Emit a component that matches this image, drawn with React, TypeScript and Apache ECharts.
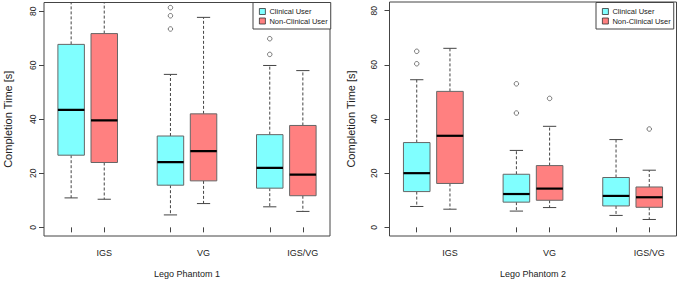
import React, { useEffect, useRef } from "react";
import * as echarts from "echarts";

// ---------- data ----------
const GROUPS = ["IGS", "VG", "IGS/VG"];
const SERIES_NAMES = ["Clinical User", "Non-Clinical User"];
const PANEL_TITLES = ["Lego Phantom 1", "Lego Phantom 2"];
const Y_AXIS_TITLE = "Completion Time [s]";
const Y_TICKS = [0, 20, 40, 60, 80];
const POS_CLINICAL = [1, 4, 7];
const POS_NONCLINICAL = [2, 5, 8];
const LABEL_POS = [2, 5, 8];

// [min whisker, Q1, median, Q3, max whisker]
const P1_CLINICAL = [
  [10.9, 26.7, 43.5, 67.7, 95],
  [4.6, 15.6, 24.1, 33.8, 56.6],
  [7.6, 14.5, 22.0, 34.3, 59.9],
];
const P1_NONCLINICAL = [
  [10.4, 24.0, 39.6, 71.7, 92],
  [8.8, 17.2, 28.2, 42.0, 77.7],
  [5.9, 11.7, 19.5, 37.7, 58.0],
];
const P1_CLINICAL_OUT = [[], [81.3, 78.3, 73.4], [69.8, 64.0]];
const P1_NONCLINICAL_OUT = [[], [], []];

const P2_CLINICAL = [
  [7.7, 13.2, 20.0, 31.3, 54.5],
  [6.0, 9.3, 12.3, 19.6, 28.4],
  [4.4, 7.9, 11.6, 18.4, 32.4],
];
const P2_NONCLINICAL = [
  [6.7, 16.2, 33.8, 50.2, 66.1],
  [7.3, 10.0, 14.3, 22.8, 37.3],
  [2.9, 7.4, 11.1, 14.9, 21.1],
];
const P2_CLINICAL_OUT = [[65.0, 60.4], [53.0, 42.2], []];
const P2_NONCLINICAL_OUT = [[], [47.6], [36.3]];

// ---------- styling ----------
const CYAN = "#80FFFF";
const RED = "#FF8080";
const Y_MIN = -3.2;
const Y_MAX = 83.2;
const X_MIN = 0.18;
const X_MAX = 8.82;
const BOX_W = 0.8;
const FONT = "Liberation Sans, Arial, sans-serif";
const TEXT = "#222";

const boxData = (pos: number[], stats: number[][]) =>
  stats.map((s, i) => [pos[i], ...s]);
const outData = (pos: number[], outs: number[][]) =>
  outs.flatMap((o, i) => o.map((v) => [pos[i], v]));

const renderBox = (_params: any, api: any) => {
  const x = api.value(0) as number;
  const mn = api.value(1) as number;
  const q1 = api.value(2) as number;
  const md = api.value(3) as number;
  const q3 = api.value(4) as number;
  const mx = api.value(5) as number;
  const w = api.size([BOX_W, 0])[0];
  const capW = w / 2;
  const cx = api.coord([x, q1])[0];
  const yQ1 = api.coord([x, q1])[1];
  const yQ3 = api.coord([x, q3])[1];
  const yMd = api.coord([x, md])[1];
  const yMn = api.coord([x, mn])[1];
  const yMx = api.coord([x, Math.min(mx, Y_MAX)])[1];
  const color = api.visual("color");
  const dashed = { stroke: "#444", lineWidth: 1, lineDash: [3, 2] };
  const solid = { stroke: "#444", lineWidth: 1 };
  const children: any[] = [
    { type: "line", shape: { x1: cx, y1: yQ3, x2: cx, y2: yMx }, style: dashed },
    { type: "line", shape: { x1: cx, y1: yQ1, x2: cx, y2: yMn }, style: dashed },
    { type: "line", shape: { x1: cx - capW / 2, y1: yMn, x2: cx + capW / 2, y2: yMn }, style: solid },
  ];
  if (mx <= Y_MAX) {
    children.push({
      type: "line",
      shape: { x1: cx - capW / 2, y1: yMx, x2: cx + capW / 2, y2: yMx },
      style: solid,
    });
  }
  children.push({
    type: "rect",
    shape: { x: cx - w / 2, y: yQ3, width: w, height: yQ1 - yQ3 },
    style: { fill: color, stroke: "#666", lineWidth: 1 },
  });
  children.push({
    type: "line",
    shape: { x1: cx - w / 2, y1: yMd, x2: cx + w / 2, y2: yMd },
    style: { stroke: "#000", lineWidth: 2.2 },
  });
  return { type: "group", children };
};

export default function App() {
  const ref = useRef<HTMLDivElement>(null);

  useEffect(() => {
    if (!ref.current) return;
    const chart = echarts.init(ref.current, undefined, { renderer: "svg" });

    const grids = [
      { left: 44, top: 2.5, width: 286, height: 236.5 },
      { left: 389.5, top: 2, width: 287, height: 236.3 },
    ].map((g) => ({
      ...g,
      show: true,
      borderColor: "#444",
      borderWidth: 1,
      backgroundColor: "transparent",
    }));

    const yLabelMargins = [7, 11];
    const yNameGaps = [31, 33];

    const xAxes = [0, 1].map((i) => ({
      gridIndex: i,
      type: "value",
      min: X_MIN,
      max: X_MAX,
      splitLine: { show: false },
      axisLine: { show: false },
      axisTick: {
        show: true,
        length: 5,
        lineStyle: { color: "#444" },
        customValues: [...POS_CLINICAL, ...POS_NONCLINICAL].sort(),
      },
      axisLabel: {
        customValues: LABEL_POS,
        formatter: (v: number) => GROUPS[LABEL_POS.indexOf(Math.round(v))] ?? "",
        fontSize: 9,
        fontFamily: FONT,
        color: TEXT,
        margin: 12,
      },
      name: PANEL_TITLES[i],
      nameLocation: "middle",
      nameGap: 33,
      nameTextStyle: { fontSize: 9, fontFamily: FONT, color: TEXT },
    }));

    const yAxes = [0, 1].map((i) => ({
      gridIndex: i,
      type: "value",
      min: Y_MIN,
      max: Y_MAX,
      splitLine: { show: false },
      axisLine: { show: false },
      axisTick: {
        show: true,
        length: 5,
        lineStyle: { color: "#444" },
        customValues: Y_TICKS,
      },
      axisLabel: {
        customValues: Y_TICKS,
        rotate: 90,
        fontSize: 8.5,
        fontFamily: FONT,
        color: TEXT,
        margin: yLabelMargins[i],
      },
      name: Y_AXIS_TITLE,
      nameLocation: "middle",
      nameGap: yNameGaps[i],
      nameTextStyle: { fontSize: 11, fontFamily: FONT, color: TEXT },
    }));

    const panels = [
      { c: P1_CLINICAL, n: P1_NONCLINICAL, co: P1_CLINICAL_OUT, no: P1_NONCLINICAL_OUT },
      { c: P2_CLINICAL, n: P2_NONCLINICAL, co: P2_CLINICAL_OUT, no: P2_NONCLINICAL_OUT },
    ];

    const series: any[] = [];
    panels.forEach((p, i) => {
      series.push({
        type: "custom",
        name: SERIES_NAMES[0],
        xAxisIndex: i,
        yAxisIndex: i,
        clip: true,
        itemStyle: { color: CYAN },
        renderItem: renderBox,
        encode: { x: 0, y: [1, 2, 3, 4, 5] },
        data: boxData(POS_CLINICAL, p.c),
      });
      series.push({
        type: "custom",
        name: SERIES_NAMES[1],
        xAxisIndex: i,
        yAxisIndex: i,
        clip: true,
        itemStyle: { color: RED },
        renderItem: renderBox,
        encode: { x: 0, y: [1, 2, 3, 4, 5] },
        data: boxData(POS_NONCLINICAL, p.n),
      });
      series.push({
        type: "scatter",
        name: "outliers-" + i,
        xAxisIndex: i,
        yAxisIndex: i,
        symbol: "circle",
        symbolSize: 4.5,
        itemStyle: { color: "transparent", borderColor: "#444", borderWidth: 0.9 },
        data: [...outData(POS_CLINICAL, p.co), ...outData(POS_NONCLINICAL, p.no)],
      });
    });

    const legendBase = {
      orient: "vertical",
      top: 2.5,
      icon: "rect",
      itemWidth: 6,
      itemHeight: 6,
      itemGap: 1.5,
      padding: [5, 3, 4, 6],
      borderColor: "#444",
      borderWidth: 1,
      backgroundColor: "#fff",
      selectedMode: false,
      textStyle: { fontSize: 7.5, fontFamily: FONT, color: TEXT, padding: [0, 0, 0, -1] },
      itemStyle: { borderColor: "#333", borderWidth: 0.8 },
      data: [
        { name: SERIES_NAMES[0], itemStyle: { color: CYAN } },
        { name: SERIES_NAMES[1], itemStyle: { color: RED } },
      ],
    };

    chart.setOption({
      animation: false,
      backgroundColor: "#fff",
      textStyle: { fontFamily: FONT },
      grid: grids,
      xAxis: xAxes,
      yAxis: yAxes,
      legend: [
        { ...legendBase, left: 253 },
        { ...legendBase, left: 596 },
      ],
      series,
    });

    return () => chart.dispose();
  }, []);

  return (
    <div
      ref={ref}
      style={{ position: "fixed", left: 0, top: 0, width: 677, height: 283 }}
    />
  );
}
